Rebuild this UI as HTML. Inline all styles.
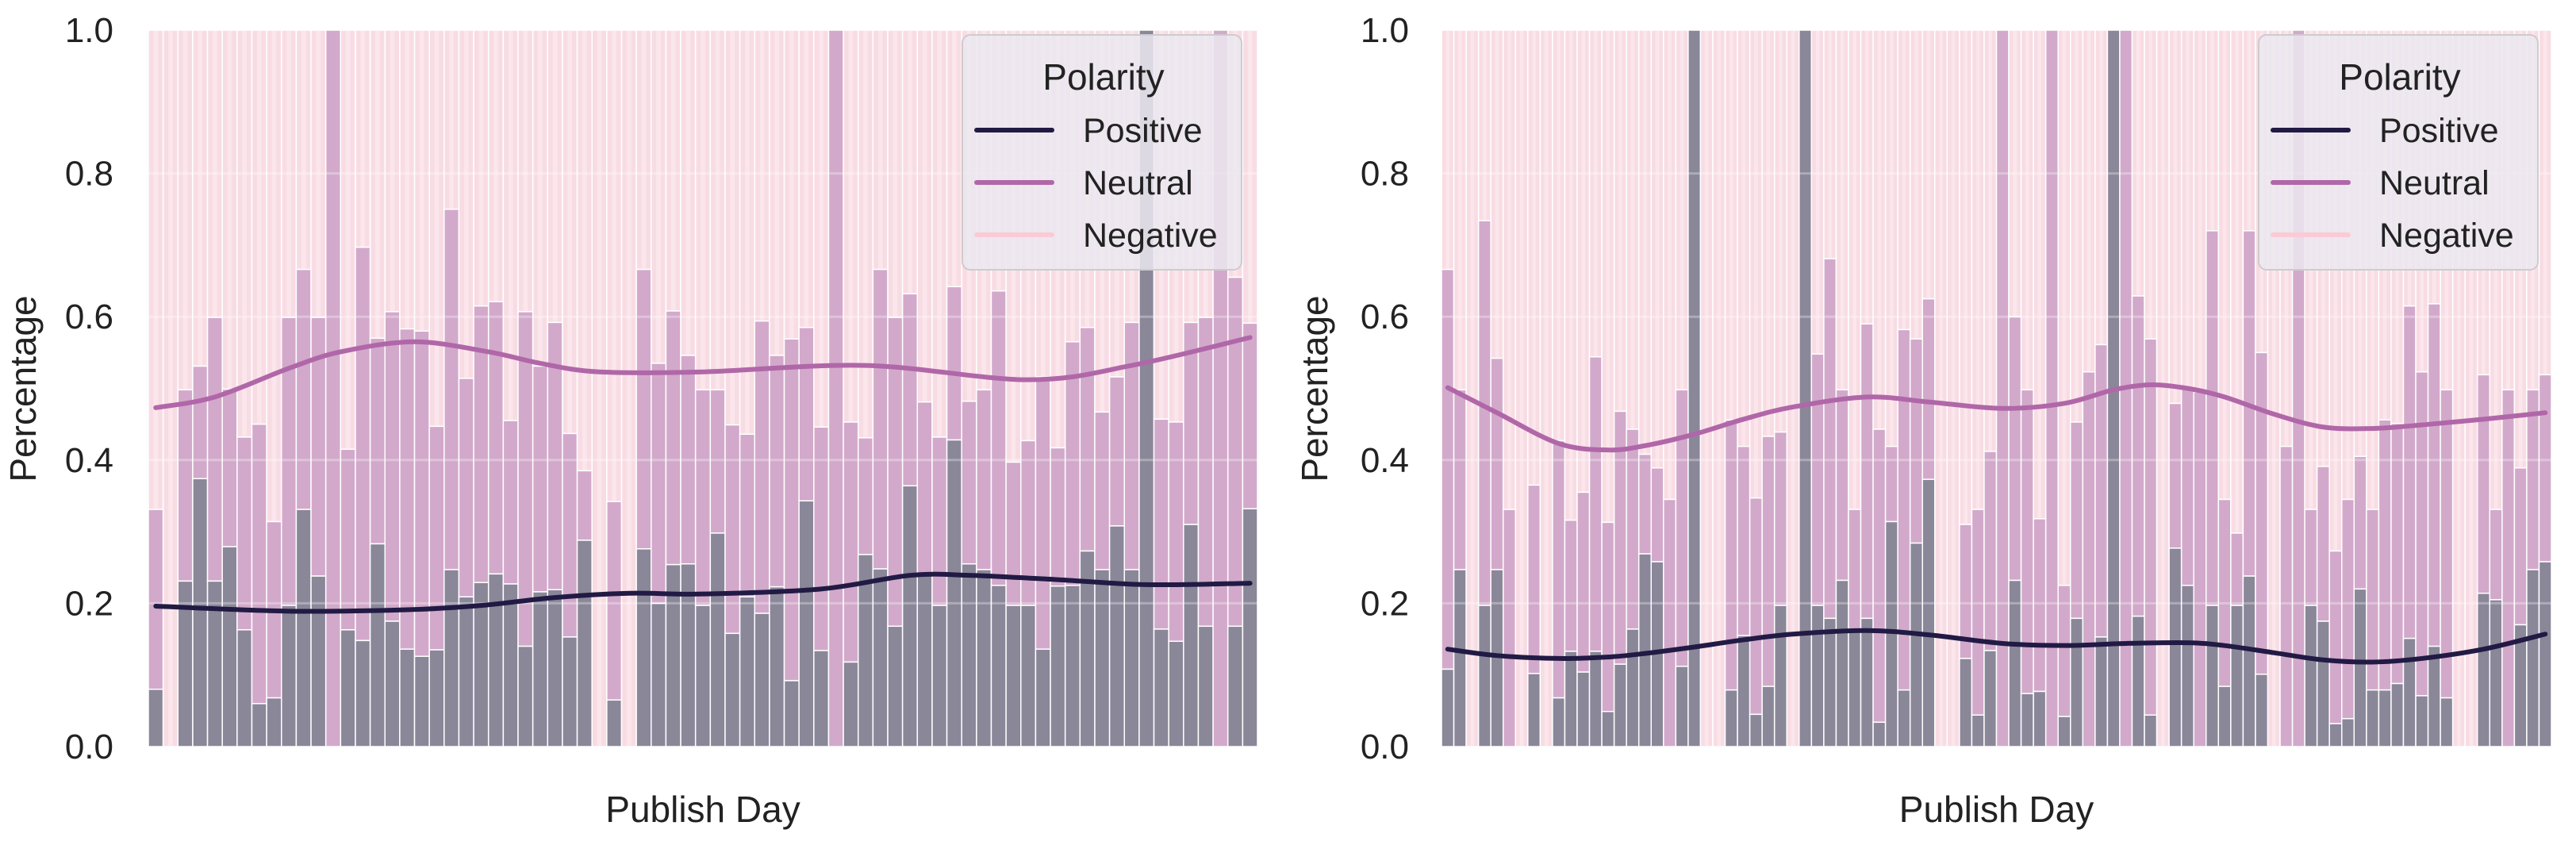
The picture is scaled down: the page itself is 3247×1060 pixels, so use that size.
<!DOCTYPE html>
<html><head><meta charset="utf-8"><style>
html,body{margin:0;padding:0;background:#fff;}
svg{display:block;font-family:"Liberation Sans",sans-serif;}
</style></head><body>
<svg id="chart" xmlns="http://www.w3.org/2000/svg" width="3247" height="1060" viewBox="0 0 3247 1060"></svg>
<script>
// Panel 1: share of positive, and cumulative positive+neutral share, per publish day
const p1Positive = [.080,0,.231,.374,.231,.279,.163,.060,.068,.197,.331,.238,0,.163,.148,.283,.175,.136,.126,.135,.247,.209,.229,.241,.227,.140,.216,.219,.153,.288,0,.065,0,.276,.20,.254,.255,.197,.298,.158,.209,.186,.223,.092,.343,.134,0,.118,.268,.248,.168,.364,.242,.197,.428,.255,.247,.225,.197,.197,.136,.224,.225,.273,.247,.308,.247,1,.164,.147,.310,.168,0,.168,.332];
const p1PosNeutral = [.331,0,.498,.531,.599,.499,.432,.450,.314,.599,.666,.599,1,.415,.697,.570,.607,.583,.580,.447,.750,.514,.615,.621,.455,.607,.531,.592,.437,.385,0,.342,0,.666,.535,.608,.546,.498,.498,.449,.436,.594,.546,.569,.585,.446,1,.453,.431,.666,.599,.632,.481,.432,.642,.482,.498,.636,.397,.427,.516,.417,.565,.585,.467,.516,.592,1,.457,.453,.592,.599,1,.655,.591];
// Panel 2
const p2Positive = [.108,.247,0,.197,.247,0,0,.102,0,.068,.133,.104,.133,.049,.115,.164,.269,.258,0,.112,1,0,0,.079,.155,.045,.084,.197,0,1,.197,.179,.232,.164,.179,.034,.314,.079,.284,.373,0,0,.123,.044,.134,0,.232,.074,.077,0,.042,.179,0,.153,1,0,.182,.044,0,.277,.225,0,.197,.084,.197,.238,.101,0,0,0,.197,.175,.032,.039,.220,.079,.079,.088,.151,.071,.140,.068,0,0,.214,.205,0,.170,.247,.258];
const p2PosNeutral = [.666,.498,0,.734,.542,.331,0,.365,0,.427,.316,.355,.544,.313,.468,.443,.408,.389,.345,.498,1,0,0,.456,.419,.347,.433,.439,0,1,.548,.681,.498,.331,.590,.443,.419,.582,.569,.625,0,0,.310,.331,.412,1,.600,.498,.318,1,.225,.453,.523,.561,1,1,.629,.569,0,.479,.50,.495,.720,.345,.298,.720,.550,0,.419,1,.331,.391,.273,.345,.405,.331,.456,.451,.615,.523,.618,.498,0,0,.519,.331,.498,.389,.498,.519];
// Smoothed trend lines (x = day index, 1-based; y = share)
const p1PosLineX = [1,10,18,23,28,33,38,46,52,56,62,68,75];
const p1PosLineY = [.196,.189,.191,.197,.208,.214,.213,.220,.239,.239,.233,.226,.228];
const p1NeuLineX = [1,5,10,13.5,18.5,23.5,27,31,38,49,60,67,75];
const p1NeuLineY = [.473,.488,.528,.551,.565,.551,.535,.523,.523,.532,.512,.532,.571];
const p2PosLineX = [1,5,10,14,17,21,25,29,35,40,46,51,56,61,64,68,72,76,80,85,90];
const p2PosLineY = [.136,.127,.123,.125,.130,.139,.149,.157,.162,.156,.144,.141,.144,.145,.141,.131,.121,.118,.123,.136,.157];
const p2NeuLineX = [1,5,10,14,17,21,25,29,35,40,46,51,55,58,61,64,68,72,76,80,85,90];
const p2NeuLineY = [.501,.466,.423,.414,.420,.436,.457,.474,.488,.481,.472,.479,.498,.505,.500,.488,.464,.446,.444,.449,.457,.466];
const yTicks = [0,0.2,0.4,0.6,0.8,1.0];
const yTickLabels = ["0.0","0.2","0.4","0.6","0.8","1.0"];
const legendLabels = ["Positive","Neutral","Negative"];

const NS = "http://www.w3.org/2000/svg";
const svg = document.getElementById("chart");
const C = {neg:"#f8dce4", negStripe:"#fbe6ec", neu:"#d2a9cb", pos:"#8a8799", posLine:"#211a44", neuLine:"#b067a8", negLine:"#fbcad5"};
function mk(tag, attrs, parent){const e=document.createElementNS(NS,tag);for(const k in attrs)e.setAttribute(k,attrs[k]);(parent||svg).appendChild(e);return e;}

function smoothPath(pts){
  let d="M"+pts[0][0]+","+pts[0][1];
  for(let i=0;i<pts.length-1;i++){
    const p0=pts[Math.max(0,i-1)],p1=pts[i],p2=pts[i+1],p3=pts[Math.min(pts.length-1,i+2)];
    const c1x=p1[0]+(p2[0]-p0[0])/6,c1y=p1[1]+(p2[1]-p0[1])/6;
    const c2x=p2[0]-(p3[0]-p1[0])/6,c2y=p2[1]-(p3[1]-p1[1])/6;
    d+=" C"+c1x+","+c1y+" "+c2x+","+c2y+" "+p2[0]+","+p2[1];
  }
  return d;
}

function panel(id, left, right, pos, cum, posLX, posLY, neuLX, neuLY, tickRight, ylabelX, legendX){
  const top=38, bottom=941, n=pos.length, bw=(right-left)/n;
  const g=mk("g",{});
  
  
  const y=v=>bottom-v*(bottom-top);
  const x=i=>left+i*bw;
  const xc=d=>left+(d-0.5)*bw;
  for(let i=0;i<n;i++){
    const bx=x(i);
    const neg=mk("rect",{x:bx,y:top,width:bw,height:y(cum[i])-top,fill:C.neg,stroke:"#fff","stroke-width":1.5},g);
    
    
    if(y(cum[i])-top>2){mk("rect",{x:bx+bw*0.35,y:top+1,width:bw*0.3,height:y(cum[i])-top-2,fill:C.negStripe},g);}
    if(cum[i]-pos[i]>0){
      const nr=mk("rect",{x:bx,y:y(cum[i]),width:bw,height:y(pos[i])-y(cum[i]),fill:C.neu,stroke:"#fff","stroke-width":1.5},g);
      
      
    }
    if(pos[i]>0){
      const pr=mk("rect",{x:bx,y:y(pos[i]),width:bw,height:bottom-y(pos[i]),fill:C.pos,stroke:"#fff","stroke-width":1.5},g);
      
      
    }
  }
  yTicks.forEach((t,k)=>{
    if(t>0&&t<1){const gl=mk("line",{x1:left,x2:right,y1:y(t),y2:y(t),stroke:"#fff","stroke-width":3,opacity:0.3},g);
      
      }
    const tl=mk("text",{x:tickRight,y:y(t)+15,"text-anchor":"end","font-size":44,fill:"#222"},g);
    tl.textContent=yTickLabels[k];
    
    
  });
  const nl=mk("path",{d:smoothPath(neuLX.map((d,i)=>[xc(d),y(neuLY[i])])),fill:"none",stroke:C.neuLine,"stroke-width":6,"stroke-linecap":"round"},g);
  
  
  const pl=mk("path",{d:smoothPath(posLX.map((d,i)=>[xc(d),y(posLY[i])])),fill:"none",stroke:C.posLine,"stroke-width":6,"stroke-linecap":"round"},g);
  
  
  const yl=mk("text",{x:0,y:0,transform:"translate("+ylabelX+",490) rotate(-90)","text-anchor":"middle","font-size":46,fill:"#222"},g);
  yl.textContent="Percentage";
  
  
  const xl=mk("text",{x:(left+right)/2,y:1036,"text-anchor":"middle","font-size":46,fill:"#222"},g);
  xl.textContent="Publish Day";
  
  
  // legend
  const lg=mk("g",{},g);
  
  
  mk("rect",{x:legendX,y:44,width:352,height:296,rx:10,fill:"#ebe7f0","fill-opacity":0.85,stroke:"#cccccc","stroke-width":2},lg);
  const tt=mk("text",{x:legendX+178,y:113,"text-anchor":"middle","font-size":46,fill:"#222"},lg);
  tt.textContent="Polarity";
  
  
  const cols=[C.posLine,C.neuLine,C.negLine];
  legendLabels.forEach((lab,i)=>{
    const ly=164+i*66;
    const e=mk("g",{},lg);
    
    
    mk("line",{x1:legendX+18,x2:legendX+113,y1:ly,y2:ly,stroke:cols[i],"stroke-width":6,"stroke-linecap":"round"},e);
    const t=mk("text",{x:legendX+152,y:ly+15,"font-size":43,fill:"#222"},e);
    t.textContent=lab;
  });
}
panel("left-panel",187,1585,p1Positive,p1PosNeutral,p1PosLineX,p1PosLineY,p1NeuLineX,p1NeuLineY,143,45,1213);
panel("right-panel",1817,3216,p2Positive,p2PosNeutral,p2PosLineX,p2PosLineY,p2NeuLineX,p2NeuLineY,1776,1673,2847);
</script>
</body></html>
